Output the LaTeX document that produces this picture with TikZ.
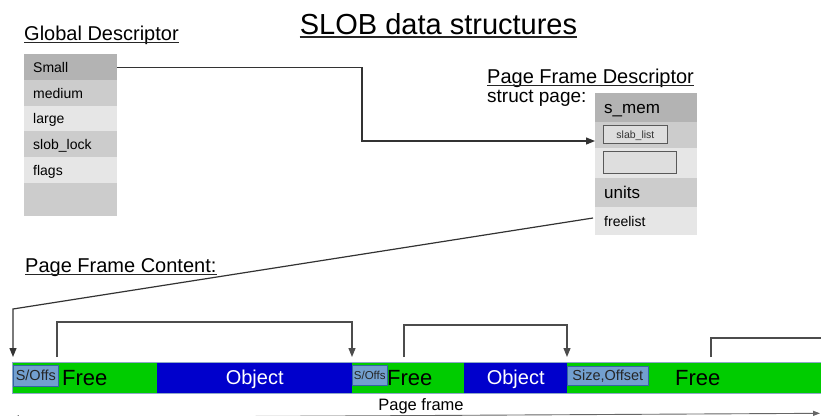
\documentclass[tikz,border=0pt]{standalone}
\usepackage{fontspec}
\setmainfont{Liberation Sans}
\usetikzlibrary{arrows.meta}
\definecolor{gA}{HTML}{B3B3B3}
\definecolor{gB}{HTML}{CCCCCC}
\definecolor{gC}{HTML}{E6E6E6}
\definecolor{fgreen}{HTML}{00CC00}
\definecolor{oblue}{HTML}{0000CC}
\definecolor{hblue}{HTML}{729FCF}
\definecolor{hborder}{HTML}{3465A4}
\definecolor{lnk}{HTML}{333333}
\definecolor{barline}{HTML}{8FA8C8}
\begin{document}
\begin{tikzpicture}[x=1pt,y=-1pt,
  gdrow/.style={anchor=north west, inner xsep=9pt, inner ysep=0pt, text width=75pt, align=left,
    text height=10pt, text depth=0pt, font=\fontsize{14}{16}\selectfont},
  pgrow/.style={anchor=north west, inner xsep=9pt, inner ysep=0pt, text width=84pt, align=left,
    text depth=0pt, font=\fontsize{17}{20}\selectfont, text height=12.2pt},
  ibox/.style={anchor=north west, draw=black!65, line width=0.8pt, fill=black!13, inner sep=0pt,
    font=\fontsize{10.5}{12}\selectfont, text height=7.5pt, text depth=0pt, text=black!80},
  seg/.style={anchor=north west, inner sep=0pt, minimum height=31pt, draw=none},
  hbox/.style={anchor=north west, inner sep=0pt, fill=hblue, draw=hborder, line width=0.6pt, text=black!85},
  lbl/.style={anchor=west, inner sep=0pt, text depth=0pt},
  heading/.style={anchor=base west, inner sep=0pt, font=\fontsize{20}{24}\selectfont},
  uline/.style={line width=1.1pt, black!85},
  lk/.style={draw=lnk, line width=1.2pt},
  tip/.style={-{Triangle[length=9pt,width=7pt]}}]
\useasboundingbox (0,0) rectangle (821,415);
\fill[white] (0,0) rectangle (821,415);

% title
\node[anchor=base, inner sep=0pt, font=\fontsize{29}{34}\selectfont] (title) at (438.5,34) {SLOB data structures};
\draw[line width=1.5pt, black!85] ([yshift=-3pt]title.base west) -- ([yshift=-3pt]title.base east);

% global descriptor
\node[heading] (gd) at (24,40) {Global Descriptor};
\draw[uline] ([yshift=-2.5pt]gd.base west) -- ([yshift=-2.5pt]gd.base east);
\node[gdrow, fill=gA, minimum height=26pt] (small) at (24,54) {Small};
\node[gdrow, fill=gB, minimum height=26pt] (medium) at (24,80) {medium};
\node[gdrow, fill=gC, minimum height=25pt] (large) at (24,106) {large};
\node[gdrow, fill=gB, minimum height=26pt] (slock) at (24,131) {slob\_lock};
\node[gdrow, fill=gC, minimum height=26pt] (flags) at (24,157) {flags};
\node[gdrow, fill=gB, minimum height=33pt] (gblank) at (24,183) {};

% page frame descriptor
\node[heading] (pfd) at (487,83) {Page Frame Descriptor};
\draw[uline] ([yshift=-2.5pt]pfd.base west) -- ([yshift=-2.5pt]pfd.base east);
\node[anchor=base west, inner sep=0pt, font=\fontsize{19}{23}\selectfont] (sp) at (487,102) {struct page:};
\node[pgrow, fill=gA, minimum height=29pt] (smem) at (595,93) {s\_mem};
\node[pgrow, fill=gB, minimum height=26pt] (slab) at (595,122) {};
\node[pgrow, fill=gC, minimum height=30pt] (pblank) at (595,148) {};
\node[pgrow, fill=gB, minimum height=29pt] (units) at (595,178) {units};
\node[pgrow, fill=gC, minimum height=28pt, font=\fontsize{14}{16}\selectfont, text height=10pt] (freelist) at (595,207) {freelist};
\node[ibox, minimum width=64pt, minimum height=18pt] (slabbox) at (603,125) {slab\_list};
\node[ibox, minimum width=73pt, minimum height=22pt] (blankbox) at (603,151) {};

% page frame content
\node[heading] (pfc) at (25,272) {Page Frame Content:};
\draw[uline] ([yshift=-2.5pt]pfc.base west) -- ([yshift=-2.5pt]pfc.base east);

% bar
\node[seg, fill=fgreen, minimum width=145pt] (free1) at (12,362) {};
\node[seg, fill=oblue, minimum width=195pt] (obj1) at (157,362) {};
\node[seg, fill=fgreen, minimum width=112pt] (free2) at (352,362) {};
\node[seg, fill=oblue, minimum width=103pt] (obj2) at (464,362) {};
\node[seg, fill=fgreen, minimum width=254pt] (free3) at (567,362) {};
\draw[barline, line width=0.8pt] (free1.north west) rectangle (free3.south east);

\node[lbl, font=\fontsize{22}{26}\selectfont, text height=15.7pt] (tf1) at (62,377.5) {Free};
\node[lbl, font=\fontsize{22}{26}\selectfont, text height=15.7pt] (tf2) at (387,377.5) {Free};
\node[lbl, font=\fontsize{22}{26}\selectfont, text height=15.7pt] (tf3) at (675,377.5) {Free};
\node[inner sep=0pt, text depth=0pt, text height=14.3pt, text=white, font=\fontsize{20}{24}\selectfont] (to1) at (obj1.center) {Object};
\node[inner sep=0pt, text depth=0pt, text height=14.3pt, text=white, font=\fontsize{20}{24}\selectfont] (to2) at (obj2.center) {Object};

\node[hbox, minimum width=45pt, minimum height=21pt, font=\fontsize{14.5}{17}\selectfont] (so1) at (13,365) {S/Offs};
\node[hbox, minimum width=35pt, minimum height=20pt, font=\fontsize{11.5}{14}\selectfont] (so2) at (352,365) {S/Offs};
\node[hbox, minimum width=81pt, minimum height=19pt, font=\fontsize{14.5}{17}\selectfont] (szo) at (567,366) {Size,Offset};

% page frame label
\node[anchor=base, inner sep=0pt, font=\fontsize{16.5}{20}\selectfont] (pf) at (421,410) {Page frame};
\coordinate (dimL) at (12,417.8);
\coordinate (dimR) at (820,413.3);
\draw[black!60, line width=0.9pt, {Triangle[length=7pt,width=5pt]}-{Triangle[length=7pt,width=5pt]}] (dimL) -- (dimR);

% connectors
\coordinate (slabin) at (595,141);
\draw[lk, tip] (small.east) -| (362,141) -- (slabin);

\coordinate (flst) at (593,218);
\coordinate (pfa) at (13,357);
\draw[lk, tip] (flst) -- (13,309) -- (pfa);

\coordinate (c1a) at (57,357);
\coordinate (c1b) at (352,357);
\draw[lk, draw=black!70, tip] (c1a) -- (57,322) -| (c1b);

\coordinate (c2a) at (404,357);
\coordinate (c2b) at (567,357);
\draw[lk, draw=black!70, tip] (c2a) -- (404,325) -| (c2b);

\coordinate (c3a) at (711,357);
\coordinate (c3b) at (822,338);
\draw[lk, draw=black!70] (c3a) |- (c3b);
\end{tikzpicture}
\end{document}
